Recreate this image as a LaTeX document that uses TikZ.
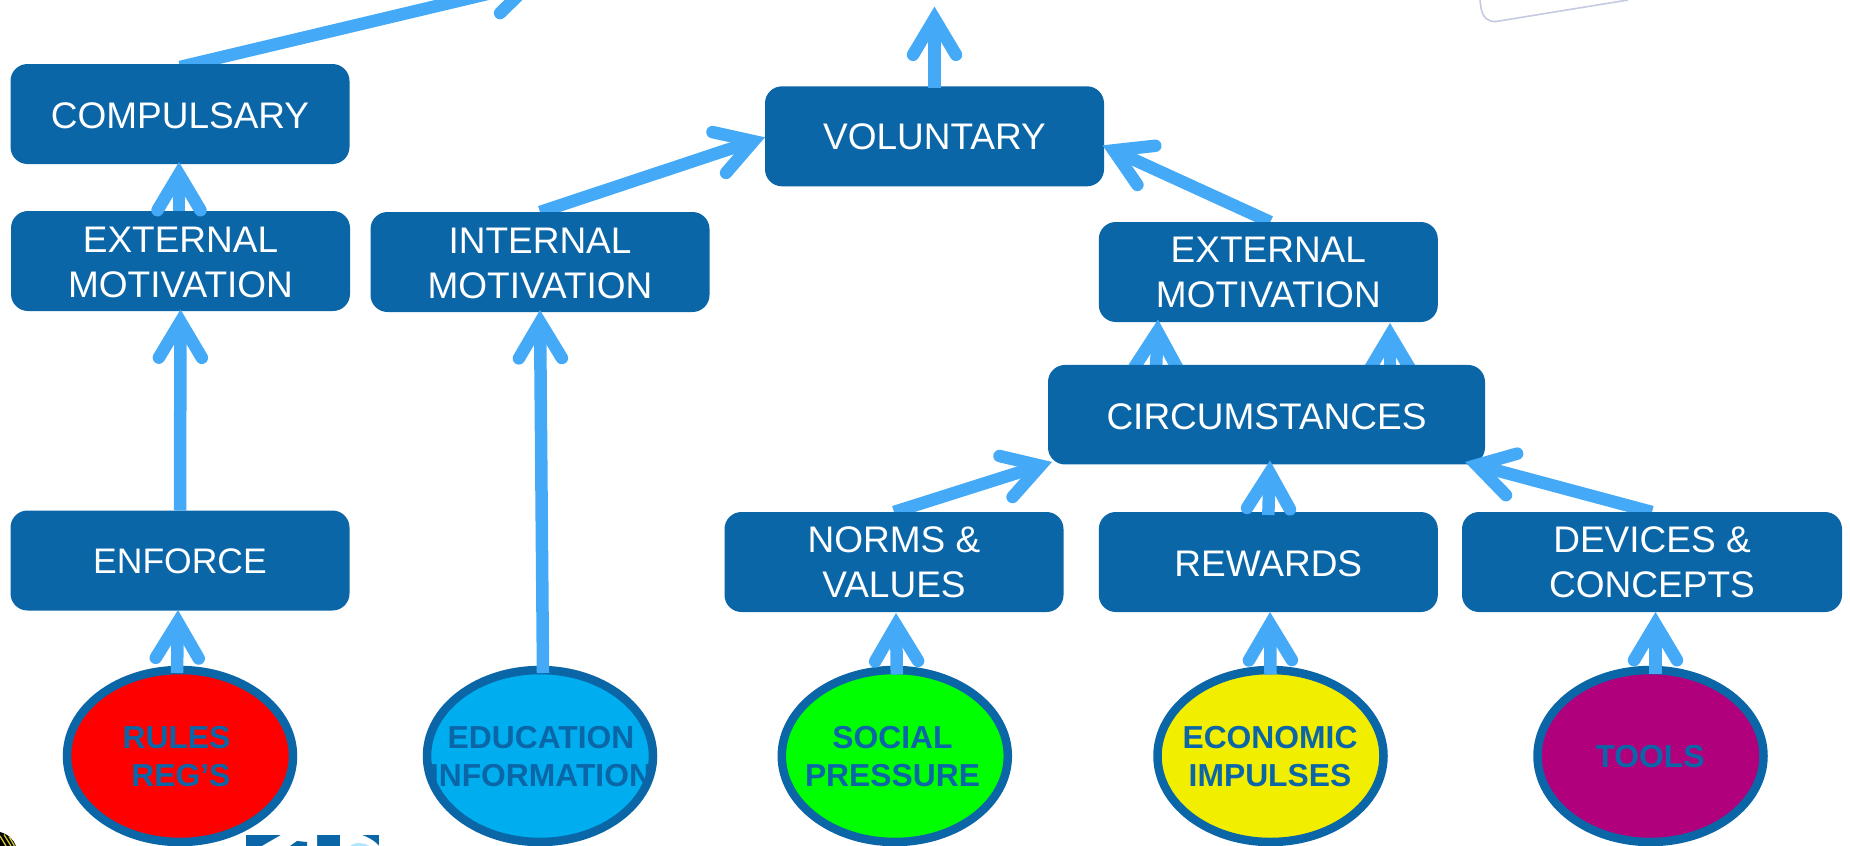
\documentclass[tikz,border=0pt]{standalone}
\usepackage{fontspec}
\setmainfont{Liberation Sans}
\usetikzlibrary{arrows.meta,shapes.geometric}
\definecolor{boxblue}{HTML}{0B66A8}
\definecolor{arrowblue}{HTML}{44AAF8}
\definecolor{faintline}{HTML}{C4CADF}
\pgfdeclarelayer{la}\pgfdeclarelayer{lb}\pgfdeclarelayer{lc}\pgfdeclarelayer{ld}
\pgfdeclarelayer{le}\pgfdeclarelayer{lf}\pgfdeclarelayer{lg}\pgfdeclarelayer{lh}
\pgfsetlayers{la,lb,lc,ld,le,lf,lg,lh,main}
\tikzset{
  box/.style={rectangle,rounded corners=17pt,fill=boxblue,inner sep=0pt,outer sep=0pt,
    minimum width=339pt,minimum height=100pt},
  boxtext/.style={text=white,inner sep=0pt,outer sep=0pt,align=center,font=\fontsize{37}{45}\selectfont},
  oval/.style={ellipse,draw=boxblue,line width=8.5pt,inner sep=0pt,outer sep=0pt,
    minimum width=226pt,minimum height=172pt},
  ovaltext/.style={text=boxblue,inner sep=0pt,align=center,font=\bfseries\fontsize{31.8}{38}\selectfont},
  conn/.style={draw=arrowblue,line width=12.5pt,
    -{Straight Barb[length=36pt,width=43pt,line width=12.5pt,line cap=round,line join=miter]}},
}
\begin{document}
\begin{tikzpicture}[x=1pt,y=-1pt]
\useasboundingbox (0,0) rectangle (1850,846);
% decorations at the picture's edges
\begin{pgfonlayer}{la}
\draw[draw=faintline,line width=1.6pt] (1480,0) -- (1481,8) .. controls (1483,18) and (1488,22) .. (1496,21.5) -- (1628,0);
\fill[black] (0,832) .. controls (8,834) and (14,840) .. (16,846) -- (0,846) -- cycle;
\draw[yellow!80!black,line width=1.3pt] (0,836) -- (6,846) (4,834.5) -- (11,846) (9,836.5) -- (14.5,846);
\fill[boxblue] (246,835) rectangle (379,846);
\fill[white] (262,846) -- (281,835) -- (307,835) -- (317,835) -- (317,846) -- cycle;
\fill[boxblue] (290,846) -- (297,841) -- (307,842) -- (307,846) -- cycle;
\fill[white] (340,835) -- (362,835) .. controls (370,838) and (376,842) .. (379,846) -- (340,846) -- cycle;
\fill[cyan!30] (350,846) .. controls (354,842) and (364,842) .. (369,846) -- cycle;
\end{pgfonlayer}
% boxes
\begin{pgfonlayer}{la}
\node[box,label={[boxtext]center:VOLUNTARY}] (vol) at (934.5,136.3) {};
\end{pgfonlayer}
\begin{pgfonlayer}{lc}
\node[box,label={[boxtext,yshift=-1.5pt]center:COMPULSARY}] (comp) at (180,114) {};
\node[box,label={[boxtext,yshift=-1.2pt]center:{EXTERNAL\\MOTIVATION}}] (ext1) at (180.5,261) {};
\node[box,label={[boxtext,yshift=-1.2pt]center:{INTERNAL\\MOTIVATION}}] (int) at (540,262) {};
\node[box,label={[boxtext,yshift=-0.3pt]center:{EXTERNAL\\MOTIVATION}}] (ext2) at (1268.3,272) {};
\end{pgfonlayer}
\begin{pgfonlayer}{le}
\node[box,minimum width=437pt,minimum height=99.5pt,label={[boxtext,yshift=-1.8pt]center:CIRCUMSTANCES}] (circ) at (1266.5,414.7) {};
\end{pgfonlayer}
\begin{pgfonlayer}{lg}
\node[box,label={[boxtext,yshift=-1.2pt,font=\fontsize{35.5}{45}\selectfont]center:ENFORCE}] (enf) at (180,560.5) {};
\node[box,label={[boxtext]center:{NORMS \&\\VALUES}}] (norms) at (894,562) {};
\node[box,label={[boxtext,yshift=-1.4pt]center:REWARDS}] (rew) at (1268.3,562) {};
\node[box,minimum width=380pt,label={[boxtext]center:{DEVICES \&\\CONCEPTS}}] (dev) at (1652,562) {};
\node[oval,fill=red] (e1) at (180,756) {};
\node[oval,fill={rgb,255:red,0;green,174;blue,239}] (e2) at (540,756) {};
\node[oval,fill=green] (e3) at (894.8,756) {};
\node[oval,fill={rgb,255:red,242;green,238;blue,0}] (e4) at (1270.5,756) {};
\node[oval,fill={rgb,255:red,176;green,0;blue,124}] (e5) at (1650.5,756) {};
\node[ovaltext,align=right] (t1) at (176.5,756.5) {RULES\\REG’S};
\node[ovaltext] (t2) at (541,756.5) {EDUCATION\\INFORMATION};
\node[ovaltext] (t3) at (892.5,756.5) {SOCIAL\\PRESSURE};
\node[ovaltext] (t4) at (1270,756.5) {ECONOMIC\\IMPULSES};
\node[ovaltext] (t5) at (1650,756.5) {TOOLS};
\end{pgfonlayer}
\coordinate (offtop) at (542,-19);
% connectors
\begin{pgfonlayer}{lb}
\draw[conn] ([yshift=-3pt]comp.north) -- (offtop);
\draw[conn] ([yshift=-2pt]vol.north) -- ([yshift=79.7pt]vol.north);
\draw[conn] (int.north) -- ([yshift=-1pt]vol.west);
\draw[conn] ([xshift=2pt]ext2.north) -- ([xshift=-1.5pt,yshift=-9pt]vol.east);
\end{pgfonlayer}
\begin{pgfonlayer}{ld}
\draw[conn] ([xshift=-1.5pt]ext1.north) -- ([xshift=-1pt,yshift=2pt]comp.south);
\draw[conn] ([xshift=-110.5pt,yshift=-5pt]circ.north) -- ([xshift=-110.3pt,yshift=2.5pt]ext2.south);
\draw[conn] ([xshift=123.5pt,yshift=-5pt]circ.north) -- ([xshift=121.7pt,yshift=-1pt]ext2.south);
\end{pgfonlayer}
\begin{pgfonlayer}{lf}
\draw[conn] (norms.north) -- ([xshift=4pt,yshift=2.5pt]circ.south west);
\draw[conn] (dev.north) -- ([xshift=-20pt,yshift=2.5pt]circ.south east);
\end{pgfonlayer}
\begin{pgfonlayer}{lh}
\draw[conn] ([yshift=-3pt]rew.north) -- ([xshift=3.5pt,yshift=4pt]circ.south);
\draw[conn] (enf.north) -- ([yshift=1.5pt]ext1.south);
\draw[conn] ([xshift=-3pt,yshift=-3pt]e1.north) -- ([xshift=-2pt,yshift=0.5pt]enf.south);
\draw[conn] ([xshift=3pt,yshift=-3pt]e2.north) -- ([yshift=2pt]int.south);
\draw[conn] ([xshift=2pt,yshift=-4.5pt]e3.north) -- ([xshift=2pt,yshift=-1pt]norms.south);
\draw[conn] ([yshift=-4.5pt]e4.north) -- ([xshift=1.7pt]rew.south);
\draw[conn] ([xshift=5pt,yshift=-4pt]e5.north) -- ([xshift=3.5pt]dev.south);
\end{pgfonlayer}
\end{tikzpicture}
\end{document}
